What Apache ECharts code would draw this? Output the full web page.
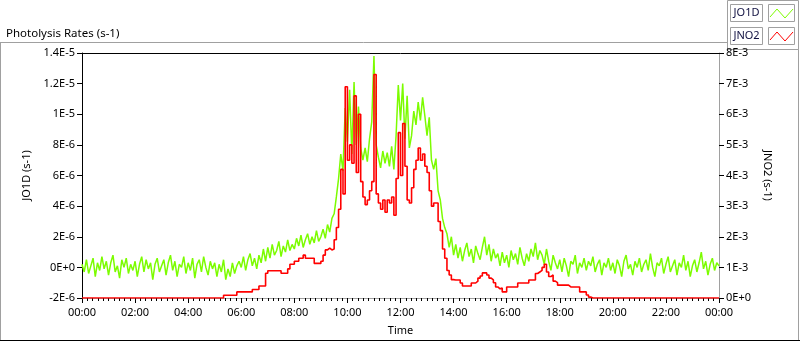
<!DOCTYPE html>
<html>
<head>
<meta charset="utf-8">
<script src="https://cdn.jsdelivr.net/npm/echarts@6/dist/echarts.min.js"></script>
<style>
  html, body { margin: 0; padding: 0; background: #fff; }
  #main { width: 800px; height: 342px; }
</style>
</head>
<body>
<div id="main"></div>
<script type="text/javascript">
    // sample step of both traces, in minutes from 00:00
    var stepMin = 5;

    var timeLabels = ['00:00', '02:00', '04:00', '06:00', '08:00', '10:00', '12:00',
                      '14:00', '16:00', '18:00', '20:00', '22:00', '00:00'];
    // left axis ticks, value unit 1E-6
    var jo1dTicks = ['-2E-6', '0E+0', '2E-6', '4E-6', '6E-6', '8E-6', '1E-5', '1.2E-5', '1.4E-5'];
    // right axis ticks, value unit 1E-3
    var jno2Ticks = ['0E+0', '1E-3', '2E-3', '3E-3', '4E-3', '5E-3', '6E-3', '7E-3', '8E-3'];

    // JO1D (x1E-6 s-1), one row per hour
    var jo1d = [
        0.2, -0.3, 0.5, -0.4, 0.1, 0.6, -0.6, 0.3, -0.2, 0.7, -0.1, 0.4,
        -0.5, 0.3, 0.8, -0.3, 0.1, -0.7, 0.5, 0.0, 0.6, -0.4, 0.2, -0.2,
        0.4, -0.6, 0.2, 0.7, -0.3, 0.5, -0.1, 0.3, -0.8, 0.2, 0.6, -0.3,
        0.1, 0.5, -0.5, 0.3, 0.8, -0.2, 0.4, -0.6, 0.2, 0.0, 0.7, -0.4,
        0.3, -0.2, 0.6, -0.7, 0.2, 0.5, -0.3, 0.7, 0.0, -0.5, 0.4, -0.1,
        0.3, -0.6, 0.2, -0.3, 0.5, -0.8, -0.1, -0.6, 0.3, -0.4, 0.1, 0.4,
        0.0, 0.7, -0.2, 0.5, 0.9, 0.1, 0.6, -0.1, 0.8, 0.3, 1.2, 0.4,
        1.3, 0.6, 1.5, 0.8, 1.1, 1.7, 0.7, 1.4, 1.0, 1.8, 1.1, 1.5,
        1.2, 1.9, 1.4, 2.1, 1.3, 1.8, 2.2, 1.5, 2.0, 1.6, 2.4, 1.7,
        2.0, 2.5, 1.9, 2.8, 2.3, 3.2, 3.5, 4.6, 5.8, 7.4, 6.3, 10.4,
        8.2, 11.6, 7.4, 12.1, 8.0, 10.5, 7.8, 7.0, 7.8, 6.9, 8.4, 9.5,
        13.8, 8.0, 7.2, 6.5, 7.6, 6.8, 7.5, 6.6, 7.9, 6.4, 8.6, 11.9,
        9.6, 12.0, 8.4, 11.2, 7.8, 8.6, 10.2, 9.3, 10.8, 9.6, 11.1, 9.9,
        8.6, 9.8, 7.0, 6.4, 7.1, 5.0, 4.4, 3.2, 2.6, 2.2, 1.3, 2.0,
        0.8, 1.5, 0.6, 1.3, 0.4, 1.1, 1.6, 0.7, 1.2, 0.3, 1.4, 0.9,
        0.5, 1.3, 2.0, 0.8, 1.5, 0.4, 1.2, 0.6, 0.9, 0.1, 1.0, 0.3,
        0.8, 0.0, 1.1, 0.5, 0.9, 0.2, 1.3, 0.6, 0.1, 0.9, 0.4, 1.2,
        0.7, 1.6, 0.5, 1.1, 0.8, 0.2, 1.2, 0.4, -0.2, 0.8, 0.3, -0.1,
        0.5, -0.3, 0.6, 0.1, -0.6, 0.4, 0.2, 0.8, -0.4, 0.3, 0.0, 0.6,
        -0.2, 0.4, 0.1, 0.7, -0.3, 0.2, 0.5, -0.5, 0.3, 0.0, 0.6, -0.2,
        0.3, -0.4, 0.5, 0.1, -0.6, 0.4, 0.8, -0.1, 0.2, -0.5, 0.4, 0.0,
        0.6, -0.3, 0.2, 0.5, -0.2, 0.9, 0.0, -0.6, 0.3, 0.1, 0.6, -0.4,
        0.2, 0.7, -0.3, 0.1, 0.5, -0.5, 0.3, 0.0, 0.8, -0.2, 0.4, -0.6,
        0.1, 0.5, -0.3, 0.3, 1.0, -0.1, 0.4, -0.5, 0.2, 0.6, -0.2, 0.3,
        0.1
    ];

    // JNO2 (x1E-3 s-1), one row per hour
    var jno2 = [
        0, 0, 0, 0, 0, 0, 0, 0, 0, 0, 0, 0,
        0, 0, 0, 0, 0, 0, 0, 0, 0, 0, 0, 0,
        0, 0, 0, 0, 0, 0, 0, 0, 0, 0, 0, 0,
        0, 0, 0, 0, 0, 0, 0, 0, 0, 0, 0, 0,
        0, 0, 0, 0, 0, 0, 0, 0, 0, 0, 0, 0,
        0, 0, 0, 0, 0.09, 0.09, 0.09, 0.09, 0.09, 0.09, 0.2, 0.2,
        0.2, 0.2, 0.2, 0.2, 0.2, 0.28, 0.28, 0.28, 0.39, 0.39, 0.39, 0.81,
        0.89, 0.89, 0.89, 0.89, 0.89, 0.89, 0.81, 0.81, 0.81, 0.95, 1.1, 1.1,
        1.2, 1.2, 1.3, 1.3, 1.4, 1.3, 1.3, 1.3, 1.3, 1.13, 1.13, 1.13,
        1.2, 1.4, 1.57, 1.63, 1.57, 1.6, 1.9, 2.3, 2.9, 4.2, 3.4, 6.9,
        4.5, 5.0, 4.4, 6.6, 4.1, 6.0, 3.8, 3.3, 3.05, 3.2, 3.5, 3.8,
        7.3, 3.4, 3.1, 2.9, 3.2, 2.8, 3.2, 3.1, 3.3, 2.7, 3.9, 5.4,
        4.0, 5.7, 4.3, 3.2, 3.1, 3.6, 4.2, 4.5, 4.9, 4.5, 4.7, 4.3,
        4.1, 3.5, 3.0, 3.1, 3.1, 2.5, 2.2, 1.6, 1.3, 0.9, 0.75, 0.6,
        0.59, 0.59, 0.59, 0.49, 0.39, 0.39, 0.39, 0.39, 0.49, 0.49, 0.55, 0.65,
        0.72, 0.82, 0.82, 0.75, 0.65, 0.59, 0.5, 0.36, 0.3, 0.33, 0.2, 0.2,
        0.36, 0.36, 0.36, 0.36, 0.36, 0.49, 0.49, 0.49, 0.49, 0.49, 0.59, 0.59,
        0.59, 0.8, 0.85, 0.9, 1.0, 1.1, 0.85, 0.7, 0.75, 0.55, 0.5, 0.42,
        0.42, 0.42, 0.42, 0.42, 0.36, 0.36, 0.36, 0.36, 0.36, 0.2, 0.2, 0.2,
        0.1, 0.03, 0, 0, 0, 0, 0, 0, 0, 0, 0, 0,
        0, 0, 0, 0, 0, 0, 0, 0, 0, 0, 0, 0,
        0, 0, 0, 0, 0, 0, 0, 0, 0, 0, 0, 0,
        0, 0, 0, 0, 0, 0, 0, 0, 0, 0, 0, 0,
        0, 0, 0, 0, 0, 0, 0, 0, 0, 0, 0, 0,
        0
    ];

    var font = 'Noto Sans';
    var frameGray = '#a0a0a0';
    var green = '#7cfc00';
    var red = '#ff0000';

    function pairs(arr) {
        return arr.map(function (v, i) { return [i * stepMin, v]; });
    }

    var myChart = echarts.init(document.getElementById('main'), null, {renderer: 'canvas'});
    myChart.setOption({
        animation: false,
        backgroundColor: '#fff',
        title: {
            text: 'Photolysis Rates (s-1)',
            left: 1,
            top: 23,
            textStyle: {fontFamily: font, fontSize: 11.5, fontWeight: 'normal', color: '#000'}
        },
        grid: {left: 82, right: 81, top: 53, bottom: 44},
        xAxis: [
            {
                type: 'value',
                min: 0,
                max: 1440,
                interval: 120,
                name: 'Time',
                nameLocation: 'middle',
                nameGap: 27,
                nameTextStyle: {fontFamily: font, fontSize: 11, color: '#000'},
                axisLine: {onZero: false, lineStyle: {color: frameGray, width: 1}},
                axisTick: {length: 5, lineStyle: {color: '#000'}},
                minorTick: {show: true, splitNumber: 10, length: 3, lineStyle: {color: '#000'}},
                axisLabel: {
                    fontFamily: font, fontSize: 11, color: '#000', margin: 9,
                    formatter: function (v) { return timeLabels[Math.round(v / 120)]; }
                },
                splitLine: {show: false}
            },
            {
                type: 'value',
                position: 'top',
                min: 0,
                max: 1440,
                axisLine: {show: true, onZero: false, lineStyle: {color: '#000', width: 1}},
                axisTick: {show: false},
                axisLabel: {show: false},
                splitLine: {show: false}
            }
        ],
        yAxis: [
            {
                type: 'value',
                min: -2,
                max: 14,
                interval: 2,
                name: 'JO1D (s-1)',
                nameLocation: 'middle',
                nameRotate: 90,
                nameGap: 44,
                nameTextStyle: {fontFamily: font, fontSize: 11, color: '#000'},
                axisLine: {show: true, onZero: false, lineStyle: {color: '#000', width: 1}},
                axisTick: {show: true, length: 5, lineStyle: {color: '#000'}},
                axisLabel: {
                    fontFamily: font, fontSize: 11, color: '#000', margin: 7,
                    formatter: function (v) { return jo1dTicks[Math.round((v + 2) / 2)]; }
                },
                splitLine: {show: false}
            },
            {
                type: 'value',
                min: 0,
                max: 8,
                interval: 1,
                position: 'right',
                name: 'JNO2 (s-1)',
                nameLocation: 'middle',
                nameRotate: -90,
                nameGap: 40,
                nameTextStyle: {fontFamily: font, fontSize: 11, color: '#000'},
                axisLine: {show: true, onZero: false, lineStyle: {color: frameGray, width: 1}},
                axisTick: {show: true, length: 5, lineStyle: {color: '#000'}},
                axisLabel: {
                    fontFamily: font, fontSize: 11, color: '#000', margin: 7,
                    formatter: function (v) { return jno2Ticks[Math.round(v)]; }
                },
                splitLine: {show: false}
            }
        ],
        series: [
            {
                name: 'JO1D',
                type: 'line',
                yAxisIndex: 0,
                data: pairs(jo1d),
                showSymbol: false,
                lineStyle: {color: green, width: 1.5},
                itemStyle: {color: green},
                z: 2
            },
            {
                name: 'JNO2',
                type: 'line',
                yAxisIndex: 1,
                step: 'end',
                data: pairs(jno2),
                showSymbol: false,
                lineStyle: {color: red, width: 1.6},
                itemStyle: {color: red},
                z: 3
            }
        ],
        graphic: [
            // outer panel frame
            {type: 'line', shape: {x1: 0, y1: 42.5, x2: 727, y2: 42.5}, style: {stroke: frameGray, lineWidth: 1}},
            {type: 'line', shape: {x1: 0.5, y1: 42, x2: 0.5, y2: 341}, style: {stroke: frameGray, lineWidth: 1}},
            {type: 'line', shape: {x1: 798.5, y1: 49, x2: 798.5, y2: 341}, style: {stroke: frameGray, lineWidth: 1}},
            {type: 'line', shape: {x1: 0, y1: 340.5, x2: 800, y2: 340.5}, style: {stroke: '#000', lineWidth: 1}},
            // legend
            {type: 'rect', shape: {x: 727.5, y: 0.5, width: 71, height: 49}, style: {fill: '#fff', stroke: frameGray, lineWidth: 1}},
            {type: 'rect', shape: {x: 730.5, y: 4.5, width: 32, height: 17}, style: {fill: '#fff', stroke: frameGray, lineWidth: 1}},
            {type: 'rect', shape: {x: 768.5, y: 4.5, width: 26, height: 17}, style: {fill: '#fff', stroke: frameGray, lineWidth: 1}},
            {type: 'rect', shape: {x: 730.5, y: 27.5, width: 32, height: 17}, style: {fill: '#fff', stroke: frameGray, lineWidth: 1}},
            {type: 'rect', shape: {x: 768.5, y: 27.5, width: 26, height: 17}, style: {fill: '#fff', stroke: frameGray, lineWidth: 1}},
            {type: 'text', x: 746.5, y: 13, style: {text: 'JO1D', fontFamily: font, fontSize: 11, fill: '#101040', align: 'center', verticalAlign: 'middle'}},
            {type: 'text', x: 746.5, y: 36, style: {text: 'JNO2', fontFamily: font, fontSize: 11, fill: '#101040', align: 'center', verticalAlign: 'middle'}},
            {type: 'polyline', shape: {points: [[770, 17], [777, 9], [785, 18], [793, 9]]}, style: {stroke: green, lineWidth: 1, fill: null}},
            {type: 'polyline', shape: {points: [[770, 40], [777, 32], [785, 41], [793, 32]]}, style: {stroke: red, lineWidth: 1, fill: null}}
        ]
    });
</script>
</body>
</html>
